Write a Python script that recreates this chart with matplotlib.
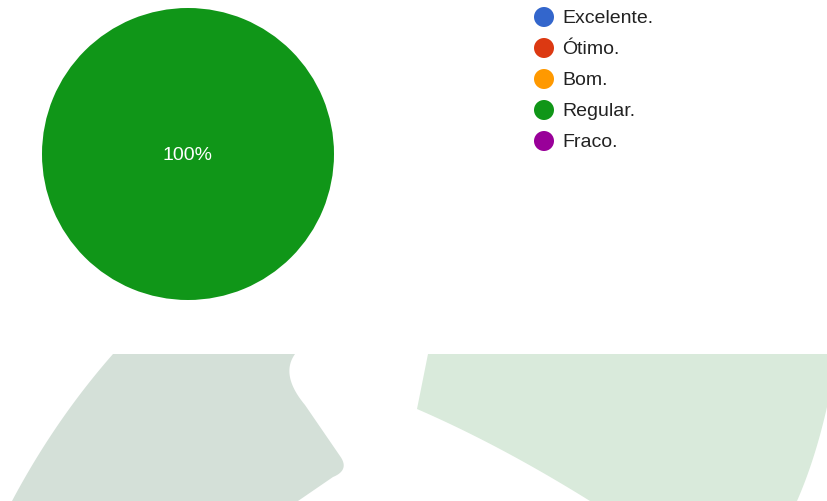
import matplotlib.pyplot as plt
from matplotlib.patches import Polygon, Circle
import numpy as np

plt.rcParams['font.family'] = ['Liberation Sans', 'DejaVu Sans']

categories = ['Excelente.', 'Ótimo.', 'Bom.', 'Regular.', 'Fraco.']
values = [0, 0, 0, 1, 0]
colors = ['#3366cc', '#dc3912', '#ff9900', '#109618', '#990099']

W, H = 827, 501
fig = plt.figure(figsize=(W / 100, H / 100), dpi=100)
ax = fig.add_axes([0, 0, 1, 1])

# decorative background shapes along the bottom edge
def curve(p0, p1, p2, n=30):
    t = np.linspace(0, 1, n)[:, None]
    return (1 - t) ** 2 * np.array(p0) + 2 * (1 - t) * t * np.array(p1) + t ** 2 * np.array(p2)

left_pts = np.vstack([
    [[113, 354], [295, 354]],
    curve((295, 354), (280, 375), (305, 405)),
    [[340, 456]],
    curve((340, 456), (350, 470), (333, 477)),
    [[298, 501], [12, 501]],
    curve((12, 501), (55, 420), (113, 354)),
])
ax.add_patch(Polygon(left_pts, closed=True, facecolor='#d4e0d8', edgecolor='none', zorder=0))

right_pts = np.vstack([
    [[428, 354], [827, 354], [827, 407]],
    curve((827, 407), (815, 460), (797, 501)),
    [[590, 501]],
    curve((590, 501), (500, 445), (417, 409)),
])
ax.add_patch(Polygon(right_pts, closed=True, facecolor='#d9eadb', edgecolor='none', zorder=0))

# pie
cx, cy, r = 188, 154, 146
ax.pie(values, colors=colors, center=(cx, cy), radius=r, startangle=90,
       counterclock=False, wedgeprops=dict(linewidth=0), frame=True)
ax.set_xlim(0, W)
ax.set_ylim(H, 0)
ax.axis('off')
total = sum(values)
main = int(np.argmax(values))
ax.text(cx, cy + 2, f'{values[main] / total * 100:.0f}%', color='white',
        fontsize=14, ha='center', va='center')

# legend
lx, ly, step = 544, 17, 31
for i, (lab, col) in enumerate(zip(categories, colors)):
    y = ly + i * step
    ax.add_patch(Circle((lx, y), 10, facecolor=col, edgecolor='none'))
    ax.text(lx + 18, y + 1.5, lab, color='#222222', fontsize=14, ha='left', va='center')

fig.savefig('out.png', dpi=100)
